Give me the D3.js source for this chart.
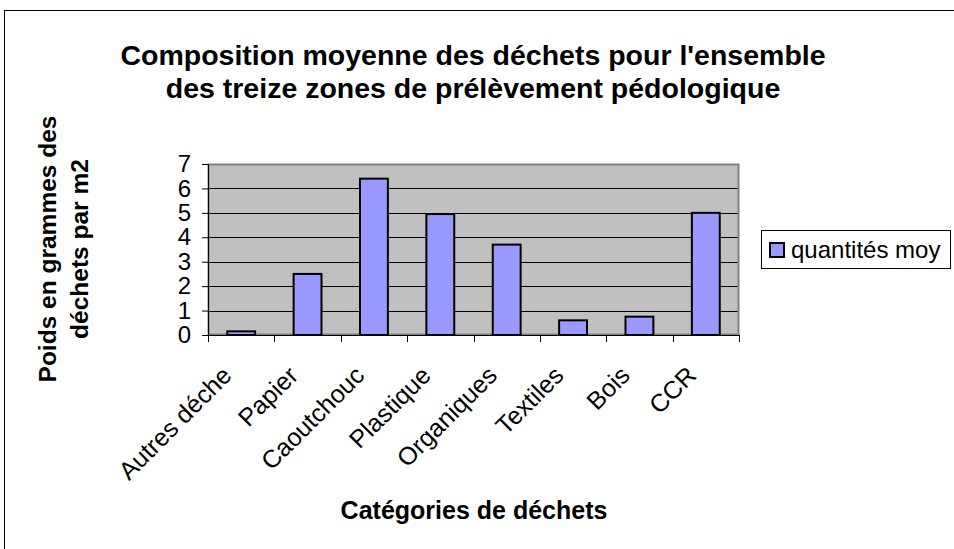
<!DOCTYPE html>
<html>
<head>
<meta charset="utf-8">
<script src="https://cdn.jsdelivr.net/npm/d3@7"></script>
<style>
  html, body { margin: 0; padding: 0; background: #fff; }
  svg { display: block; font-family: "Liberation Sans", Arial, sans-serif; }
</style>
</head>
<body>
<div id="chart"></div>
<script>
// Chart data
const categories = ['Autres déche', 'Papier', 'Caoutchouc', 'Plastique', 'Organiques', 'Textiles', 'Bois', 'CCR'];
const quantites = [0.15, 2.5, 6.4, 4.95, 3.7, 0.6, 0.75, 5.0];
const yTicks = [0, 1, 2, 3, 4, 5, 6, 7];
const titleLines = ["Composition moyenne des déchets pour l'ensemble", 'des treize zones de prélèvement pédologique'];
const yTitleLines = ['Poids en grammes des', 'déchets par m2'];
const xTitle = 'Catégories de déchets';
const seriesName = 'quantités moy';

const width = 954, height = 549;
const plot = { left: 208, top: 164, right: 739, bottom: 335 };

const svg = d3.select('#chart').append('svg')
  .attr('width', width)
  .attr('height', height);

// Outer chart frame (runs off the right and bottom edges)
svg.append('rect')
  .attr('x', 4.5).attr('y', 10.5)
  .attr('width', 1000).attr('height', 600)
  .attr('fill', '#fff')
  .attr('stroke', '#000')
  .attr('stroke-width', 1);

const x = d3.scaleBand()
  .domain(categories)
  .range([plot.left, plot.right])
  .paddingInner(0.58)
  .paddingOuter(0.29);

const xOuter = d3.scaleBand()
  .domain(categories)
  .range([plot.left, plot.right]);

const y = d3.scaleLinear()
  .domain([0, 7])
  .range([plot.bottom, plot.top]);

// Plot area background
svg.append('rect')
  .attr('x', plot.left).attr('y', plot.top)
  .attr('width', plot.right - plot.left)
  .attr('height', plot.bottom - plot.top)
  .attr('fill', '#c0c0c0');

// Gridlines
svg.append('g')
  .selectAll('line')
  .data(yTicks.filter(d => d > 0 && d < 7))
  .join('line')
  .attr('x1', plot.left).attr('x2', plot.right)
  .attr('y1', d => Math.round(y(d)) + 0.5)
  .attr('y2', d => Math.round(y(d)) + 0.5)
  .attr('stroke', '#000')
  .attr('stroke-width', 1);

// Plot area border
svg.append('rect')
  .attr('x', plot.left + 0.5).attr('y', plot.top + 0.5)
  .attr('width', plot.right - plot.left - 1)
  .attr('height', plot.bottom - plot.top - 1)
  .attr('fill', 'none')
  .attr('stroke', '#808080')
  .attr('stroke-width', 2);

// Bars
svg.append('g')
  .selectAll('rect')
  .data(quantites)
  .join('rect')
  .attr('x', (d, i) => x(categories[i]))
  .attr('y', d => y(d))
  .attr('width', x.bandwidth())
  .attr('height', d => plot.bottom - y(d))
  .attr('fill', '#9999ff')
  .attr('stroke', '#000')
  .attr('stroke-width', 2);

// Y axis
const yAxis = d3.axisLeft(y)
  .tickValues(yTicks)
  .tickSize(6)
  .tickPadding(11)
  .tickFormat(d3.format('d'));

svg.append('g')
  .attr('transform', `translate(${plot.left},0)`)
  .call(yAxis)
  .call(g => g.select('.domain').attr('stroke', '#000'))
  .call(g => g.selectAll('.tick line').attr('stroke', '#000'))
  .call(g => g.selectAll('text')
    .attr('font-size', '24px')
    .attr('fill', '#000')
    .attr('font-family', '"Liberation Sans", Arial, sans-serif'));

// X axis: ticks at category boundaries
const boundaries = categories.map(c => xOuter(c)).concat([plot.right]);
const xAxisG = svg.append('g');
xAxisG.append('line')
  .attr('x1', plot.left).attr('x2', plot.right)
  .attr('y1', plot.bottom + 0.5).attr('y2', plot.bottom + 0.5)
  .attr('stroke', '#000');
xAxisG.selectAll('line.tk')
  .data(boundaries)
  .join('line')
  .attr('class', 'tk')
  .attr('x1', d => Math.round(d) + 0.5).attr('x2', d => Math.round(d) + 0.5)
  .attr('y1', plot.bottom).attr('y2', plot.bottom + 7)
  .attr('stroke', '#000');

// Rotated category labels
xAxisG.selectAll('text')
  .data(categories)
  .join('text')
  .attr('transform', d => `translate(${xOuter(d) + xOuter.bandwidth() / 2 - 8},${plot.bottom + 42}) rotate(-45)`)
  .attr('text-anchor', 'end')
  .attr('font-size', '25px')
  .attr('fill', '#000')
  .text(d => d);

// Title
svg.append('text')
  .attr('text-anchor', 'middle')
  .attr('font-size', '28.5px')
  .attr('font-weight', 'bold')
  .selectAll('tspan')
  .data(titleLines)
  .join('tspan')
  .attr('x', 473)
  .attr('y', (d, i) => 65 + i * 33)
  .text(d => d);

// Y axis title
svg.append('text')
  .attr('transform', 'translate(0,249) rotate(-90)')
  .attr('text-anchor', 'middle')
  .attr('font-size', '24.5px')
  .attr('font-weight', 'bold')
  .selectAll('tspan')
  .data(yTitleLines)
  .join('tspan')
  .attr('x', 0)
  .attr('y', (d, i) => 56 + i * 32)
  .text(d => d);

// X axis title
svg.append('text')
  .attr('x', 474)
  .attr('y', 519)
  .attr('text-anchor', 'middle')
  .attr('font-size', '25px')
  .attr('font-weight', 'bold')
  .text(xTitle);

// Legend
const legend = svg.append('g');
legend.append('rect')
  .attr('x', 761.5).attr('y', 230.5)
  .attr('width', 189).attr('height', 38)
  .attr('fill', '#fff')
  .attr('stroke', '#000');
legend.append('rect')
  .attr('x', 770).attr('y', 243)
  .attr('width', 14).attr('height', 14)
  .attr('fill', '#9999ff')
  .attr('stroke', '#000')
  .attr('stroke-width', 2);
legend.append('text')
  .attr('x', 791)
  .attr('y', 258)
  .attr('font-size', '24px')
  .text(seriesName);
</script>
</body>
</html>
